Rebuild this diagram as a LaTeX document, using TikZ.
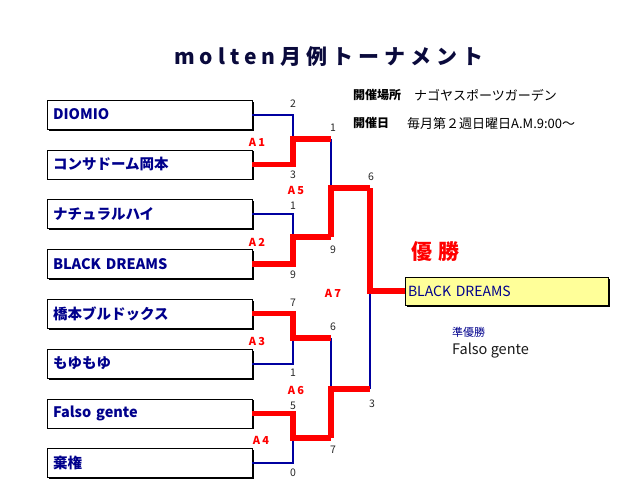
\documentclass[tikz,border=0pt]{standalone}
\usepackage{fontspec}
\setmainfont{Noto Sans CJK JP}
\usepackage{tikz}
\usetikzlibrary{calc,shadows}
\definecolor{teamBlue}{RGB}{0,0,140}
\definecolor{lineBlue}{RGB}{0,0,160}
\definecolor{titleNavy}{RGB}{10,10,60}
\definecolor{finalYellow}{RGB}{255,255,153}
\def\myGap{49.8pt}

\begin{document}
\begin{tikzpicture}[x=1pt,y=-1pt]
      \tikzstyle{every node} = [inner sep=0pt, font=\fontsize{13}{15}\selectfont]
      \tikzstyle{team} = [draw, rectangle, fill=white, text=teamBlue, font=\fontsize{14.5}{16}\selectfont\bfseries, text width=193pt, inner xsep=6pt, minimum height=29pt, align=left, drop shadow={shadow xshift=1.5pt, shadow yshift=-1.5pt, fill=black, opacity=1}]
      \tikzstyle{champbox} = [team, fill=finalYellow, font=\fontsize{14}{16}\selectfont, text width=197pt, inner xsep=3pt, minimum height=28pt]
      \tikzstyle{lose} = [draw=lineBlue, line width=2pt]
      \tikzstyle{win} = [draw=red, line width=5.5pt]
      \tikzstyle{score} = [font=\fontsize{10.5}{12}\selectfont, text=black!85]
      \tikzstyle{match} = [font=\fontsize{11}{12}\selectfont\bfseries\addfontfeature{LetterSpace=20}, text=red]
      \useasboundingbox (0,0) rectangle (642,488);
      \node[font=\fontsize{21}{24}\selectfont\bfseries\addfontfeature{LetterSpace=24}, text=titleNavy](title) at (329,57){molten月例トーナメント};
      \node[team](t1) at (149.5,114.5){DIOMIO};
      \node[team, below of=t1, node distance=\myGap](t2){コンサドーム岡本};
      \node[team, below of=t2, node distance=\myGap](t3){ナチュラルハイ};
      \node[team, below of=t3, node distance=\myGap](t4){BLACK DREAMS};
      \node[team, below of=t4, node distance=\myGap](t5){橋本ブルドックス};
      \node[team, below of=t5, node distance=\myGap](t6){もゆもゆ};
      \node[team, below of=t6, node distance=\myGap](t7){Falso gente};
      \node[team, below of=t7, node distance=\myGap](t8){棄権};
      \node[champbox](champ) at (506.5,291){BLACK DREAMS};
      % Info
      \node[anchor=west, font=\fontsize{12}{14}\selectfont\bfseries](placeKey) at (353,95){開催場所};
      \node[anchor=west](placeVal) at (414,95){ナゴヤスポーツガーデン};
      \node[anchor=west, font=\fontsize{12}{14}\selectfont\bfseries](dateKey) at (353,123){開催日};
      \node[anchor=west](dateVal) at (407,124){毎月第２週日曜日A.M.9:00～};
      \node[anchor=west, font=\fontsize{21}{24}\selectfont\bfseries, text=red](winHead) at (411,252){優\hspace{0.3em}勝};
      \node[anchor=west, font=\fontsize{11}{12}\selectfont, text=teamBlue](runnerHead) at (452,332){準優勝};
      \node[anchor=west, font=\fontsize{14.5}{16}\selectfont, text=black!90](runnerName) at (452,351){Falso gente};
      % Match points
      \coordinate (A1) at (293,139);
      \coordinate (A2) at (293,237);
      \coordinate (A3) at (293,338);
      \coordinate (A4) at (293,438);
      \coordinate (A5) at (331,188);
      \coordinate (A6) at (331,389);
      \coordinate (A7) at (370,291);
      % Connections
      \draw[lose] (t1.east) -| (A1);
      \draw[lose] (t3.east) -| (A2);
      \draw[lose] (t6.east) -| (A3);
      \draw[lose] (t8.east) -| (A4);
      \draw[lose] (A1 -| A5) -- (A5);
      \draw[lose] (A3 -| A6) -- (A6);
      \draw[lose] (A6 -| A7) -- (A7);
      \draw[win] (t2.east) -| (A1) -- (A1 -| A5);
      \draw[win] (t4.east) -| (A2) -- (A2 -| A5);
      \draw[win] (t5.east) -| (A3) -- (A3 -| A6);
      \draw[win] (t7.east) -| (A4) -- (A4 -| A6);
      \draw[win] (A2 -| A5) -- (A5) -- (A5 -| A7);
      \draw[win] (A4 -| A6) -- (A6) -- (A6 -| A7);
      \draw[win] (A5 -| A7) -- (A7) -- (champ.west);
      % Scores
      \node[score](s1) at (293,104){2};
      \node[score](s2) at (293,175){3};
      \node[score](s3) at (293,206){1};
      \node[score](s4) at (293,275){9};
      \node[score](s5) at (293,303){7};
      \node[score](s6) at (293,373){1};
      \node[score](s7) at (293,406){5};
      \node[score](s8) at (293,473){0};
      \node[score](s9) at (333,128){1};
      \node[score](s10) at (333,250){9};
      \node[score](s11) at (333,327){6};
      \node[score](s12) at (333,450){7};
      \node[score](s13) at (371,177){6};
      \node[score](s14) at (372,404){3};
      % Match labels
      \node[match](mA1) at (257,142){A1};
      \node[match](mA2) at (257,242){A2};
      \node[match](mA3) at (257,341){A3};
      \node[match](mA4) at (261,440){A4};
      \node[match](mA5) at (296,190){A5};
      \node[match](mA6) at (296,390){A6};
      \node[match](mA7) at (333,293){A7};
\end{tikzpicture}
\end{document}
